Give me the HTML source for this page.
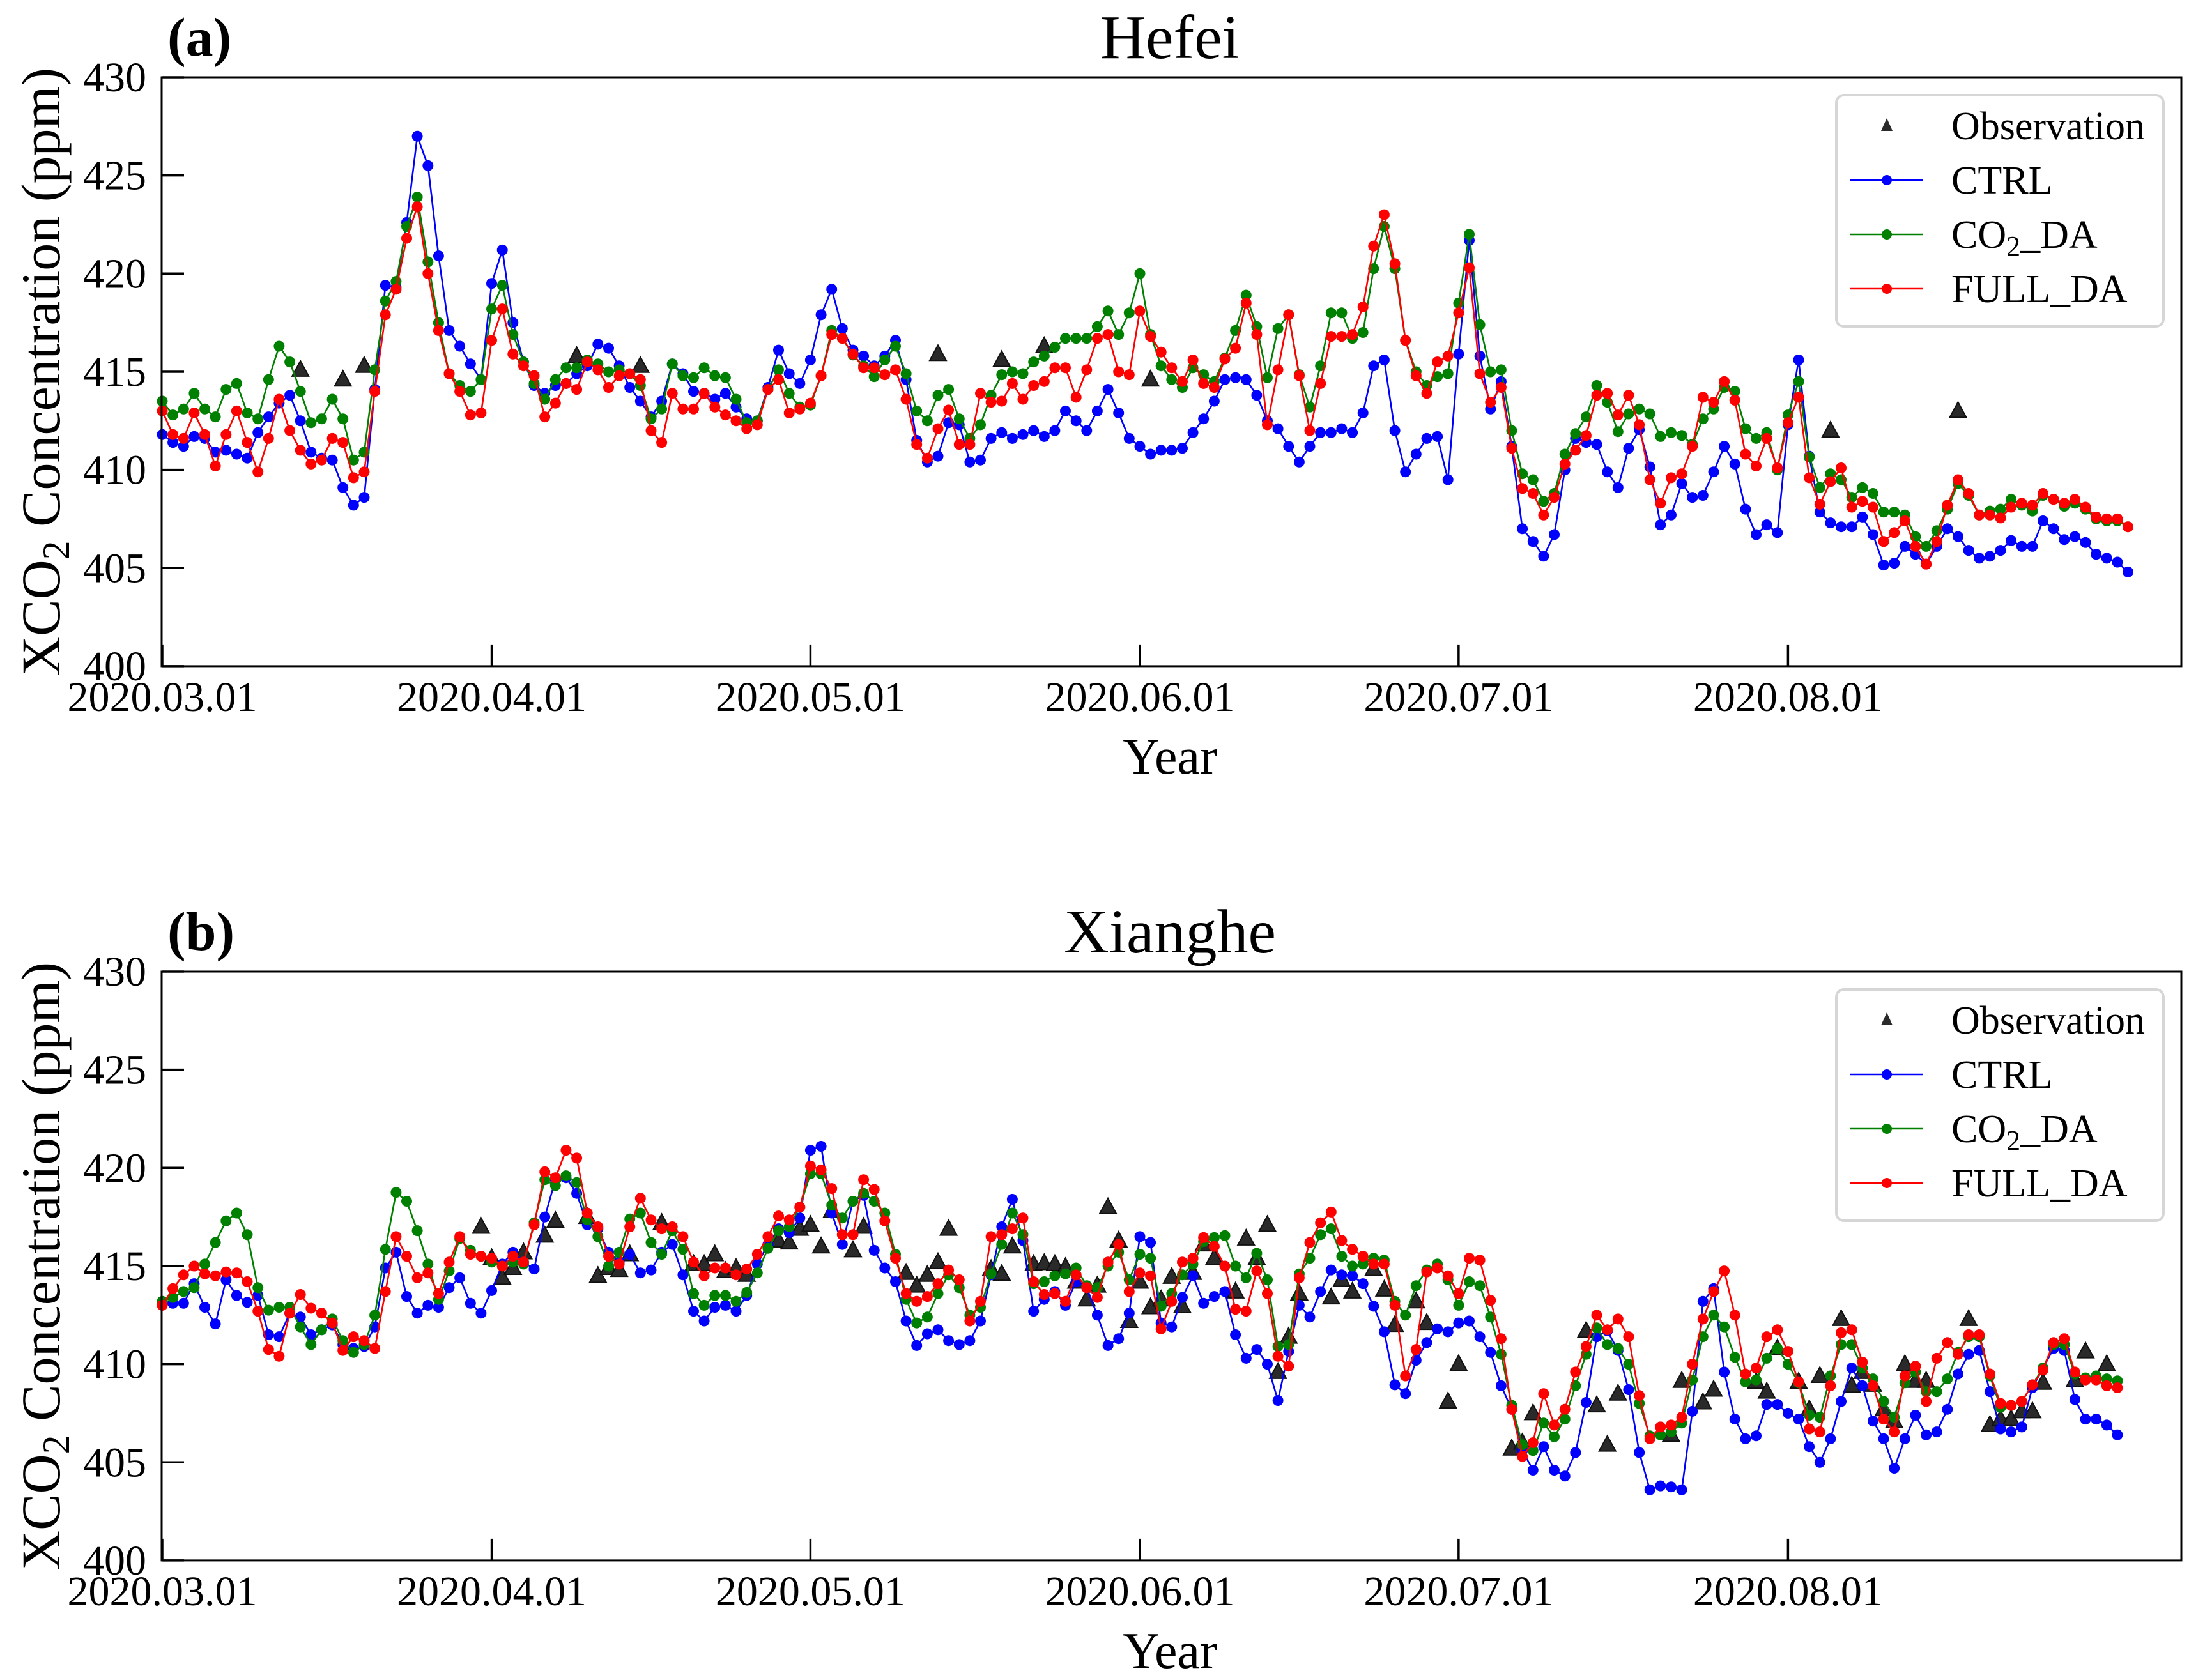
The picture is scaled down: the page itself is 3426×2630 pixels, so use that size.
<!DOCTYPE html>
<html><head><meta charset="utf-8"><style>
html,body{margin:0;padding:0;background:#fff;}
svg{display:block;font-family:"Liberation Serif",serif;}
</style></head><body>
<svg id="fig" width="3426" height="2630" viewBox="0 0 3426 2630" xmlns="http://www.w3.org/2000/svg"></svg>
<script>
const monthLabels = ["2020.03.01","2020.04.01","2020.05.01","2020.06.01","2020.07.01","2020.08.01"];
const monthDays = [0,31,61,92,122,153];
const yTicks = [400,405,410,415,420,425,430];

const hefeiCTRL = [411.8,411.4,411.2,411.7,411.6,410.9,411.0,410.8,410.6,411.9,412.7,413.4,413.8,412.5,410.9,410.6,410.5,409.1,408.2,408.6,414.1,419.4,419.3,422.6,427.0,425.5,420.9,417.1,416.3,415.4,414.6,419.5,421.2,417.5,415.5,414.3,413.9,414.3,414.4,414.9,415.3,416.4,416.2,415.3,414.2,413.5,412.7,413.5,415.4,414.9,414.0,413.9,413.6,413.9,413.2,412.6,412.5,414.2,416.1,414.9,414.4,415.6,417.9,
419.2,417.2,416.1,415.8,415.3,415.8,416.6,414.6,411.5,410.4,410.7,412.4,412.3,410.4,410.5,411.6,411.9,411.6,411.8,412.0,411.7,412.0,413.0,412.5,412.0,413.0,414.1,412.9,411.6,411.2,410.8,411.0,411.0,411.1,411.9,412.6,413.5,414.6,414.7,414.6,413.8,412.5,412.1,411.2,410.4,411.2,411.9,411.9,412.1,411.9,412.9,415.3,415.6,412.0,409.9,410.8,411.6,411.7,409.5,415.9,421.7,415.8,413.1,414.5,411.2,
407.0,406.35,405.6,406.7,410.0,411.6,411.4,411.3,409.9,409.1,411.1,412.05,410.15,407.2,407.7,409.3,408.6,408.7,409.9,411.2,410.3,408.0,406.7,407.2,406.8,412.3,415.6,410.7,407.85,407.3,407.1,407.1,407.6,406.7,405.15,405.25,406.1,405.7,405.2,406.1,407.0,406.6,405.9,405.5,405.6,405.9,406.4,406.1,406.1,407.4,407.0,406.45,406.6,406.3,405.7,405.5,405.3,404.8];
const hefeiCO2DA = [413.5,412.8,413.1,413.9,413.1,412.7,414.1,414.4,412.9,412.6,414.6,416.3,415.5,414.0,412.4,412.6,413.6,412.6,410.5,410.9,415.1,418.6,419.6,422.4,423.9,420.6,417.5,414.9,414.3,414.0,414.6,418.2,419.4,416.9,415.5,414.4,413.6,414.6,415.2,415.2,415.6,415.4,415.0,415.1,414.9,414.3,412.6,413.1,415.4,414.8,414.7,415.2,414.8,414.7,413.6,412.4,412.5,414.1,415.1,413.9,413.2,413.3,414.8,
417.1,416.7,415.85,415.3,414.75,415.6,416.3,414.9,413.0,412.5,413.8,414.1,412.6,411.6,412.3,413.8,414.85,415.0,414.9,415.5,415.8,416.25,416.7,416.7,416.7,417.3,418.1,416.9,418.0,420.0,416.9,415.3,414.6,414.2,415.2,414.85,414.5,415.7,417.1,418.9,417.3,414.7,417.2,417.9,414.85,413.2,415.3,418.0,418.0,416.7,417.0,420.25,422.4,420.25,416.6,415.0,414.3,414.75,414.9,418.5,422.0,417.4,415.0,415.1,412.0,
409.8,409.5,408.4,408.8,410.8,411.85,412.7,414.3,413.45,411.95,412.85,413.1,412.85,411.7,411.9,411.75,411.3,412.6,413.1,414.2,414.0,412.1,411.6,411.9,410.0,412.8,414.5,410.65,409.1,409.8,409.5,408.6,409.1,408.8,407.85,407.85,407.7,406.6,406.1,406.9,408.0,409.3,408.7,407.7,407.9,408.0,408.5,408.2,407.9,408.7,408.5,408.15,408.3,408.0,407.5,407.4,407.4,407.1];
const hefeiFULLDA = [413.0,411.8,411.6,412.9,411.8,410.2,411.8,413.0,411.4,409.9,411.6,413.6,412.0,411.0,410.3,410.5,411.6,411.4,409.6,409.9,414.0,417.9,419.2,421.8,423.4,420.0,417.1,414.9,414.0,412.8,412.9,416.6,418.2,415.9,415.3,414.8,412.7,413.4,414.4,414.1,415.5,415.1,414.2,414.8,414.9,414.6,412.0,411.4,413.9,413.1,413.1,413.9,413.2,412.8,412.5,412.1,412.3,414.1,414.6,412.9,413.1,413.4,414.8,
416.9,416.7,415.9,415.2,415.2,414.85,415.1,413.6,411.3,410.6,412.1,413.05,411.3,411.3,413.9,413.45,413.5,414.4,413.6,414.3,414.5,415.2,415.2,413.7,415.1,416.7,416.9,415.0,414.85,418.1,416.8,416.0,415.2,414.5,415.6,414.4,414.2,415.65,416.2,418.5,416.9,412.3,415.1,417.9,414.8,412.0,414.4,416.8,416.8,416.9,418.3,421.4,423.0,420.5,416.6,414.8,413.9,415.5,415.8,418.0,420.3,414.9,413.45,414.2,411.1,
409.05,408.8,407.7,408.6,410.3,411.0,411.75,413.8,413.9,412.8,413.8,412.3,409.5,408.3,409.6,409.8,411.2,413.7,413.45,414.5,413.55,410.8,410.2,411.6,410.1,412.4,413.7,409.6,408.25,409.4,410.1,408.1,408.4,408.1,406.35,406.8,407.4,406.1,405.2,406.35,408.2,409.5,408.8,407.7,407.7,407.55,408.1,408.3,408.2,408.8,408.5,408.3,408.5,408.1,407.6,407.5,407.5,407.1];
const hefeiObsDays = [13,17,19,39,45,73,79,83,93,157,169];
const hefeiObsVals = [415.1,414.6,415.3,415.8,415.3,415.9,415.6,416.3,414.6,412.0,413.0];

const xiangheCTRL = [413.05,413.1,413.1,414.1,412.9,412.05,414.3,413.5,413.15,413.5,411.5,411.4,412.6,412.4,411.5,411.75,412.0,411.0,410.8,410.9,411.9,414.9,415.7,413.45,412.6,413.0,412.9,413.9,414.4,413.1,412.6,413.75,415.1,415.7,415.2,414.85,417.5,419.4,419.5,418.7,417.1,416.9,415.7,415.2,415.6,414.65,414.8,415.7,416.1,414.55,412.7,412.2,412.9,413.0,412.7,413.5,415.1,416.1,416.9,416.7,417.45,420.9,421.1,
417.7,416.1,418.3,418.6,415.8,414.9,414.2,412.2,410.95,411.55,411.75,411.2,411.0,411.2,412.2,414.55,417.0,418.4,416.3,412.7,413.3,413.7,413.0,414.2,413.9,412.5,410.95,411.3,412.6,416.5,416.2,412.1,411.9,413.4,414.5,413.1,413.45,413.7,411.5,410.3,410.75,410.0,408.15,410.65,413.0,412.4,413.7,414.8,414.55,414.5,414.1,412.95,411.65,408.95,408.5,410.2,411.1,411.8,411.65,412.1,412.2,411.4,
410.6,408.9,407.7,405.6,404.6,405.8,404.6,404.3,405.5,408.05,411.4,411.7,410.7,408.7,405.5,403.6,403.8,403.75,403.6,407.6,413.2,413.85,409.6,407.2,406.2,406.35,407.95,407.95,407.5,407.2,405.8,405.0,406.2,408.1,409.8,408.9,407.1,406.2,404.7,406.2,407.4,406.4,406.55,407.7,409.5,410.5,410.7,408.6,406.7,406.55,406.8,408.8,409.8,410.8,410.7,408.2,407.2,407.2,406.9,406.4];
const xiangheCO2DA = [413.2,413.4,413.7,413.9,415.1,416.2,417.3,417.7,416.6,413.9,412.75,412.9,412.9,411.9,411.0,411.75,412.3,411.2,410.6,411.0,412.5,415.85,418.75,418.3,416.8,415.1,413.3,414.75,416.4,415.8,415.5,415.2,415.0,415.2,415.1,417.2,419.4,419.1,419.6,419.25,417.35,416.5,415.0,415.7,417.4,417.7,416.2,415.6,416.8,415.85,413.6,413.0,413.5,413.5,413.2,413.65,414.65,415.9,416.8,417.0,418.0,419.7,419.7,
418.1,417.45,418.3,418.7,418.3,417.7,415.6,413.3,412.1,412.4,413.6,414.55,413.9,412.5,412.9,414.6,416.1,417.7,416.6,414.1,414.2,414.5,414.6,414.9,414.0,413.9,415.0,415.7,414.3,415.6,415.4,412.95,413.6,414.55,415.1,416.25,416.45,416.55,415.0,414.4,415.65,414.3,410.9,411.0,414.6,415.4,416.6,416.9,415.5,415.0,415.1,415.4,415.3,413.2,412.5,414.0,414.8,415.1,414.3,413.0,414.2,414.0,
412.4,410.5,407.9,405.9,405.6,407.0,406.3,407.2,408.9,410.5,411.85,411.0,410.8,410.0,408.0,406.35,406.4,406.55,407.0,409.2,411.4,412.5,411.9,410.35,409.1,409.2,410.3,410.8,410.0,409.05,407.4,407.3,409.4,411.0,411.0,409.8,409.25,408.1,407.3,409.05,409.6,408.6,408.6,409.25,410.6,411.4,411.4,409.4,407.8,407.9,408.1,408.95,409.8,411.0,411.0,409.5,409.3,409.4,409.25,409.15];
const xiangheFULLDA = [413.0,413.85,414.55,415.0,414.6,414.5,414.7,414.65,414.2,412.7,410.75,410.4,412.6,413.55,412.85,412.6,412.1,410.7,411.4,411.2,410.8,413.7,416.5,415.5,414.4,414.65,413.6,415.2,416.5,415.6,415.5,415.4,415.0,415.5,415.2,417.1,419.8,419.5,420.9,420.5,417.7,417.0,415.5,415.1,417.0,418.45,417.35,416.9,417.0,416.5,415.2,414.5,414.9,414.9,414.55,414.85,415.6,416.5,417.55,417.35,418.0,420.1,419.9,
418.95,416.6,416.6,419.4,418.9,417.3,415.4,413.6,413.2,413.45,414.1,414.8,414.3,412.2,413.2,416.5,416.6,416.9,417.45,414.2,413.55,413.6,413.2,414.55,413.9,413.4,415.2,416.1,413.7,414.65,414.5,411.8,413.2,415.2,415.4,416.45,416.0,415.0,412.8,412.7,414.75,413.6,410.4,409.9,414.4,416.2,417.2,417.75,416.3,415.85,415.5,415.1,415.1,413.0,409.4,410.75,414.7,414.9,414.5,413.6,415.4,415.3,
413.25,411.3,407.7,405.3,406.0,408.5,406.9,407.7,409.6,410.9,412.5,411.75,412.3,411.4,408.4,406.2,406.8,406.9,407.3,410.0,412.3,413.7,414.75,412.5,409.5,409.8,411.4,411.75,410.65,409.1,406.7,406.55,408.9,411.6,411.75,410.1,408.9,407.2,406.55,409.4,409.9,408.1,410.3,411.1,410.5,411.5,411.5,409.5,408.0,407.9,408.1,408.95,409.7,411.1,411.3,409.6,409.2,409.2,408.9,408.8];
const xiangheObsDays = [30,31,32,33,34,36,37,40,41,42,43,44,47,50,51,52,53,54,55,58,59,60,61,62,63,65,66,70,71,72,73,74,78,79,80,82,83,84,85,86,87,88,89,90,91,92,93,94,95,96,97,98,99,101,102,103,104,105,106,107,110,111,112,114,115,116,118,119,121,122,127,128,129,134,135,136,137,142,143,145,146,150,151,152,154,155,156,158,159,160,161,162,163,164,165,166,170,172,173,174,175,176,177,180,181,183];
const xiangheObsVals = [417.0,415.4,414.4,414.9,415.7,416.55,417.3,417.5,414.5,414.9,414.8,415.6,417.2,415.1,415.1,415.6,414.75,414.9,414.55,416.3,416.2,416.9,417.1,416.0,417.8,415.8,417.0,414.65,414.0,414.55,415.2,416.9,414.85,414.6,416.0,415.1,415.15,415.1,414.95,414.2,413.3,414.0,418.0,416.3,412.2,414.2,412.9,413.3,414.45,412.95,414.65,416.1,415.4,413.7,416.4,415.4,417.1,409.6,411.4,413.6,413.4,414.3,413.7,414.85,413.8,412.0,413.2,412.1,408.1,410.0,405.7,406.0,407.5,411.7,407.9,405.9,408.5,406.4,409.15,408.05,408.7,409.1,408.6,410.8,409.1,407.7,409.4,412.3,408.9,409.6,408.95,407.7,407.1,410.0,409.15,409.15,412.3,406.9,407.2,407.2,407.6,407.6,409.05,409.2,410.65,410.0];

const NS = "http://www.w3.org/2000/svg";
const svg = document.getElementById('fig');
const PL = 254, PR = 3414, DAYPX = 16.63, PPM = 30.73;
function xScale(d){ return PL + d*DAYPX; }
function mk(tag, attrs, parent){ const e = document.createElementNS(NS, tag); for (const k in attrs) e.setAttribute(k, attrs[k]); (parent||svg).appendChild(e); return e; }

function drawPanel(top, key, title, ctrl, co2, full, obsD, obsV){
  const y = v => top + (430 - v)*PPM;
  const g = mk('g', {});
  
  
  const bottom = y(400);
  const og = mk('g', {}, g);
  
  
  obsD.forEach((d,i) => {
    const cx = xScale(d), cy = y(obsV[i]);
    const t = mk('polygon', {points:`${cx},${cy-14} ${cx-13},${cy+10} ${cx+13},${cy+10}`, fill:'#2a2a2a', stroke:'#111', 'stroke-width':2}, og);
    
    
  });
  const series = [[ctrl,'#0000ff','ctrl'],[co2,'#008000','co2-da'],[full,'#ff0000','full-da']];
  series.forEach(([vals,col,nm]) => {
    const sg = mk('g', {}, g);
    
    
    const pts = vals.map((v,i) => xScale(i).toFixed(1) + ',' + y(v).toFixed(1)).join(' ');
    const pl = mk('polyline', {points:pts, fill:'none', stroke:col, 'stroke-width':2.6}, sg);
    
    
    vals.forEach((v,i) => {
      const c = mk('circle', {cx:xScale(i).toFixed(1), cy:y(v).toFixed(1), r:8.5, fill:col}, sg);
      
      
    });
  });
  const fr = mk('rect', {x:PL-1, y:top, width:PR-PL+1, height:bottom-top, fill:'none', stroke:'#000', 'stroke-width':3}, g);
  
  
  yTicks.forEach(t => {
    const ty = y(t);
    const tk = mk('line', {x1:PL, x2:PL+34, y1:ty, y2:ty, stroke:'#000', 'stroke-width':3.5}, g);
    
    
    const tl = mk('text', {x:229, y:ty+22, 'font-size':66, 'text-anchor':'end', fill:'#000'}, g);
    tl.textContent = t;
    
    
  });
  monthDays.forEach((d,i) => {
    const tx = xScale(d);
    const tk = mk('line', {x1:tx, x2:tx, y1:bottom, y2:bottom-34, stroke:'#000', 'stroke-width':3.5}, g);
    
    
    const tl = mk('text', {x:tx, y:bottom+70, 'font-size':66, 'text-anchor':'middle', fill:'#000'}, g);
    tl.textContent = monthLabels[i];
    
    
  });
  const xt = mk('text', {x:1831, y:bottom+168, 'font-size':80, 'text-anchor':'middle'}, g);
  xt.textContent = 'Year';
  
  
  const yt = mk('text', {x:0, y:0, 'font-size':86, 'text-anchor':'middle', transform:`translate(93,${top+461}) rotate(-90)`}, g);
  yt.innerHTML = 'XCO<tspan font-size="60" dy="15">2</tspan><tspan dy="-15"> Concentration (ppm)</tspan>';
  
  
  const tt = mk('text', {x:1831, y:top-30, 'font-size':98, 'text-anchor':'middle'}, g);
  tt.textContent = title;
  
  
  const pn = mk('text', {x:262, y:top-34, 'font-size':86, 'font-weight':'bold'}, g);
  pn.textContent = key === 'hefei' ? '(a)' : '(b)';
  
  
  const lg = mk('g', {}, g);
  
  
  mk('rect', {x:2874, y:top+28, width:512, height:362, rx:12, fill:'#fff', 'fill-opacity':0.85, stroke:'#d6d6d6', 'stroke-width':4}, lg);
  const rows = [['Observation',null],['CTRL','#0000ff'],['CO2_DA','#008000'],['FULL_DA','#ff0000']];
  rows.forEach((r,i) => {
    const ry = top + 76 + i*85;
    const e = mk('g', {}, lg);
    
    
    if (!r[1]) {
      mk('polygon', {points:`2953,${ry-12} 2944,${ry+8} 2962,${ry+8}`, fill:'#2a2a2a'}, e);
    } else {
      mk('line', {x1:2895, x2:3010, y1:ry, y2:ry, stroke:r[1], 'stroke-width':2.6}, e);
      mk('circle', {cx:2953, cy:ry, r:8, fill:r[1]}, e);
    }
    const t = mk('text', {x:3054, y:ry+21, 'font-size':62}, e);
    if (r[0] === 'CO2_DA') t.innerHTML = 'CO<tspan font-size="44" dy="12">2</tspan><tspan dy="-12">_DA</tspan>';
    else t.textContent = r[0];
  });
}
drawPanel(121, 'hefei', 'Hefei', hefeiCTRL, hefeiCO2DA, hefeiFULLDA, hefeiObsDays, hefeiObsVals);
drawPanel(1521, 'xianghe', 'Xianghe', xiangheCTRL, xiangheCO2DA, xiangheFULLDA, xiangheObsDays, xiangheObsVals);
</script>
</body></html>
